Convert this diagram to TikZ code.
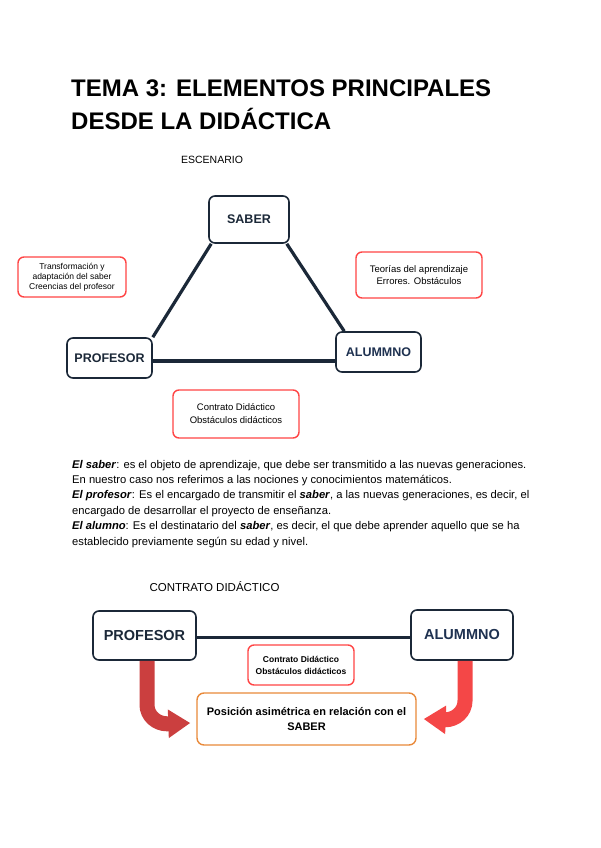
\documentclass[tikz,border=0pt]{standalone}
\usepackage{fontspec}
\setmainfont{Liberation Sans}
\usetikzlibrary{arrows.meta}
\definecolor{navy}{HTML}{1B2838}
\definecolor{navytext}{HTML}{1E3150}
\definecolor{notered}{HTML}{FF4545}
\definecolor{boxorange}{HTML}{E9893A}
\definecolor{darkred}{HTML}{CB3F3F}
\definecolor{brightred}{HTML}{F44747}
\begin{document}
\begin{tikzpicture}[
    x=1pt, y=-1pt,
    box/.style={draw=navy, line width=1.6pt, rounded corners=6pt, inner sep=0pt,
        font=\bfseries\fontsize{12.5}{14}\selectfont, text=navy},
    note/.style={draw=notered, line width=1.4pt, rounded corners=6pt, inner sep=0pt, align=center},
    link/.style={draw=navy, line width=3.2pt},
    fatarrow/.style={line width=15pt, -{Triangle[width=27pt,length=22pt]}}
]
    \useasboundingbox[fill=white] (0,0) rectangle (600,848);

    % titulo
    \node (tit1) at (71,97) [anchor=base west, inner sep=0pt, font=\bfseries\fontsize{24}{28}\selectfont] {TEMA 3: ELEMENTOS PRINCIPALES};
    \node (tit2) at (71,129) [anchor=base west, inner sep=0pt, font=\bfseries\fontsize{24}{28}\selectfont] {DESDE LA DIDÁCTICA};

    % escenario
    \node (esc) at (212,160) [font=\fontsize{10.5}{12}\selectfont] {ESCENARIO};
    \node (saber) at (249,219.5) [box, minimum width=80pt, minimum height=47pt] {SABER};
    \node (prof) at (109.5,358) [box, minimum width=85pt, minimum height=40pt] {PROFESOR};
    \node (alum) at (378.5,352) [box, minimum width=85pt, minimum height=40pt, text=navytext] {ALUMMNO};

    \draw[link] ([xshift=3pt]saber.south west) -- (prof.north east);
    \draw[link] ([xshift=-3pt]saber.south east) -- ([xshift=9pt]alum.north west);
    \draw[link] ([yshift=-3pt]prof.east) -- ([yshift=-3pt]prof.east -| alum.west);

    \node (trans) at (72,277) [note, minimum width=108pt, minimum height=40pt,
        font=\fontsize{8.5}{10}\selectfont] {Transformación y\\adaptación del saber\\Creencias del profesor};
    \node (teor) at (419,275) [note, minimum width=126pt, minimum height=46pt,
        font=\fontsize{9.5}{12}\selectfont] {Teorías del aprendizaje\\Errores. Obstáculos};
    \node (contr) at (236,414) [note, minimum width=126pt, minimum height=48pt,
        font=\fontsize{9.5}{13}\selectfont] {Contrato Didáctico\\Obstáculos didácticos};

    % texto
    \node (texto) at (72,545) [anchor=base west, inner sep=0pt, align=left,
        font=\fontsize{11.2}{15.4}\selectfont] {%
        \textbf{\textit{El saber}}: es el objeto de aprendizaje, que debe ser transmitido a las nuevas generaciones.\\
        En nuestro caso nos referimos a las nociones y conocimientos matemáticos.\\
        \textbf{\textit{El profesor}}: Es el encargado de transmitir el \textbf{\textit{saber}}, a las nuevas generaciones, es decir, el\\
        encargado de desarrollar el proyecto de enseñanza.\\
        \textbf{\textit{El alumno}}: Es el destinatario del \textbf{\textit{saber}}, es decir, el que debe aprender aquello que se ha\\
        establecido previamente según su edad y nivel.};

    % contrato didactico
    \node (contrtit) at (214.5,587) [font=\fontsize{11.5}{13}\selectfont] {CONTRATO DIDÁCTICO};
    \node (prof2) at (144.5,635.5) [box, minimum width=103pt, minimum height=49pt,
        font=\bfseries\fontsize{14.5}{16}\selectfont] {PROFESOR};
    \node (alum2) at (462,635) [box, minimum width=102pt, minimum height=50pt, text=navytext,
        font=\bfseries\fontsize{14.5}{16}\selectfont] {ALUMMNO};
    \draw[link] ([yshift=-2pt]prof2.east) -- ([yshift=-2pt]prof2.east -| alum2.west);

    \node (contr2) at (301,665) [note, minimum width=106pt, minimum height=40pt,
        font=\bfseries\fontsize{8.5}{12}\selectfont] {Contrato Didáctico\\Obstáculos didácticos};
    \node (pos) at (306.5,719) [draw=boxorange, line width=1.4pt, rounded corners=7pt, inner sep=0pt,
        minimum width=219pt, minimum height=52pt, align=center,
        font=\bfseries\fontsize{11}{15}\selectfont] {Posición asimétrica en relación con el\\SABER};

    \draw[fatarrow, darkred] ([xshift=2.5pt]prof2.south) -- ++(0,44)
        to[out=-90,in=180] ++(20,19) -- ([xshift=-6pt,yshift=-4pt]pos.west);
    \draw[fatarrow, brightred] ([xshift=3pt]alum2.south) -- ++(0,40)
        to[out=-90,in=0] ++(-20,19) -- ([xshift=7pt]pos.east);
\end{tikzpicture}
\end{document}
